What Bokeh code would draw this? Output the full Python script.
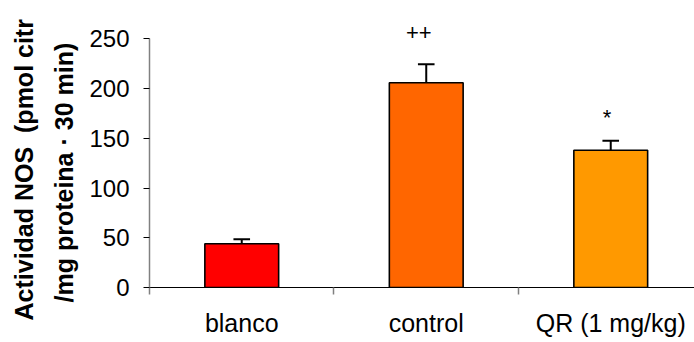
import math
from bokeh.plotting import figure
from bokeh.models import Range1d, FixedTicker, Label, ColumnDataSource, LinearAxis, Title
from bokeh.embed import file_html
from bokeh.resources import INLINE

categories = ["blanco", "control", "QR (1 mg/kg)"]
values = [44, 206, 138]
errors = [4.5, 18.5, 9.5]
colors = ["#FF0000", "#FF6600", "#FF9900"]
signif = ["", "++", "*"]
y_ticks = [0, 50, 100, 150, 200, 250]
ylabel_lines = ["Actividad NOS\u00a0\u00a0(pmol citr", "/mg proteina \u00b7 30 min)"]

FONT = "Liberation Sans"

p = figure(width=694, height=342, output_backend="svg", toolbar_location=None,
           x_range=Range1d(0, 2.954), y_range=Range1d(0, 288.7),
           min_border_left=149, min_border_right=0, min_border_top=0, min_border_bottom=55)
p.outline_line_color = None
p.xgrid.visible = False
p.ygrid.visible = False
p.background_fill_color = "white"

xs = [i + 0.5 for i in range(len(categories))]
src = ColumnDataSource(dict(x=xs, top=values, color=colors,
                            err_top=[v + e for v, e in zip(values, errors)]))
p.vbar(x="x", top="top", width=0.4, bottom=0, fill_color="color",
       line_color="black", line_width=1.6, source=src)
p.segment(x0="x", y0="top", x1="x", y1="err_top", line_color="black", line_width=2, source=src)
src2 = ColumnDataSource(dict(x0=[x - 0.045 for x in xs], x1=[x + 0.045 for x in xs],
                             y=[v + e for v, e in zip(values, errors)]))
p.segment(x0="x0", y0="y", x1="x1", y1="y", line_color="black", line_width=2, source=src2)

# y axis
ya = p.yaxis[0]
ya.ticker = FixedTicker(ticks=y_ticks)
ya.bounds = (0, 250)
ya.major_tick_out = 6
ya.major_tick_in = 0
ya.minor_tick_line_color = None
ya.axis_line_color = "#808080"
ya.axis_line_width = 1.5
ya.major_tick_line_color = "black"
ya.major_label_text_font = FONT
ya.major_label_text_font_size = "24px"
ya.major_label_text_color = "black"
ya.major_label_standoff = 14

# x axis (category boundaries)
xa = p.xaxis[0]
xa.ticker = FixedTicker(ticks=[0, 1, 2, 3])
xa.major_label_overrides = {0: " ", 1: " ", 2: " ", 3: " "}
xa.major_label_text_font_size = "1px"
xa.major_label_standoff = 0
xa.major_tick_out = 7
xa.major_tick_in = 0
xa.minor_tick_line_color = None
xa.axis_line_color = "black"
xa.axis_line_width = 1.2
xa.major_tick_line_color = "#808080"
xa.major_tick_line_width = 1.5

# category labels axis
ca = LinearAxis(ticker=FixedTicker(ticks=xs),
                major_label_overrides={x: c for x, c in zip(xs, categories)})
ca.axis_line_color = None
ca.major_tick_line_color = None
ca.minor_tick_line_color = None
ca.major_tick_out = 0
ca.major_tick_in = 0
ca.major_label_standoff = 10
ca.major_label_text_font = FONT
ca.major_label_text_font_size = "25px"
ca.major_label_text_color = "black"
p.add_layout(ca, "below")

sig_y = {"++": 257.0, "*": 171.0}
sig_dx = {"++": -0.04, "*": -0.02}
for x, s in zip(xs, signif):
    if s:
        p.add_layout(Label(x=x + sig_dx[s], y=sig_y[s], text=s, text_align="center", text_baseline="middle",
                           text_font=FONT, text_font_size="22px", text_color="black"))

# y label: two lines as left titles
t2 = Title(text=ylabel_lines[1], align="left", offset=-15, standoff=17,
           text_font=FONT, text_font_style="bold", text_font_size="25px", text_color="black")
t1 = Title(text=ylabel_lines[0], align="left", offset=-33, standoff=4,
           text_font=FONT, text_font_style="bold", text_font_size="25px", text_color="black")
p.add_layout(t2, "left")
p.add_layout(t1, "left")

open("out.html", "w").write(file_html(p, INLINE))
